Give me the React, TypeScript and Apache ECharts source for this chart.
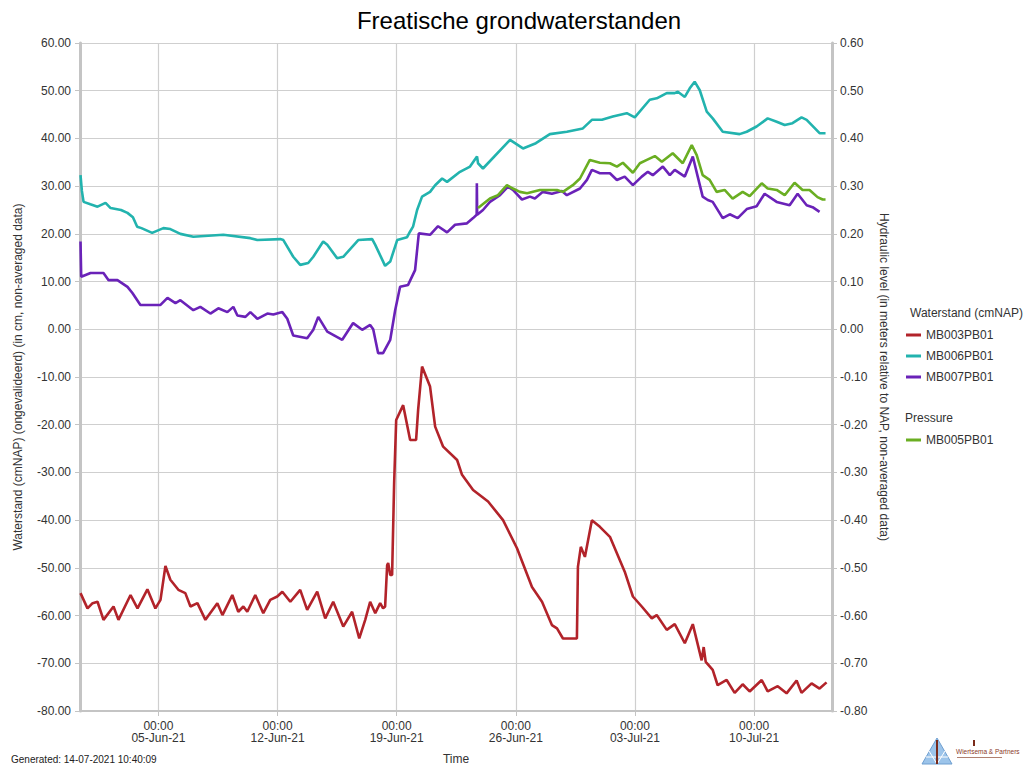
import React, { useEffect, useRef } from 'react';
import * as echarts from 'echarts';

// Time values are in days since 31-May-2021 00:00 (local time)
const mb003Days = [0.42, 0.83, 1.13, 1.42, 1.77, 2.36, 2.65, 3.36, 3.77, 4.35, 4.82, 5.12, 5.41, 5.70, 6.17, 6.58, 6.88, 7.29, 7.76, 8.46, 8.76, 9.34, 9.69, 9.99, 10.22, 10.69, 11.16, 11.57, 11.98, 12.28, 12.75, 13.33, 13.74, 14.33, 14.80, 15.27, 15.86, 16.38, 16.80, 17.15, 17.44, 17.74, 18.03, 18.20, 18.32, 18.44, 18.50, 18.62, 18.73, 18.85, 18.97, 19.38, 19.79, 20.14, 20.26, 20.49, 20.96, 21.26, 21.73, 22.55, 22.84, 23.49, 24.37, 25.25, 26.07, 26.95, 27.54, 28.12, 28.42, 28.77, 29.47, 29.59, 29.65, 29.82, 30.06, 30.47, 30.94, 31.53, 32.40, 32.88, 33.40, 33.99, 34.28, 34.87, 35.34, 35.93, 36.40, 36.92, 37.04, 37.16, 37.57, 37.86, 38.39, 38.86, 39.33, 39.74, 40.45, 40.80, 41.39, 41.91, 42.50, 42.79, 43.38, 43.85, 44.26];
const mb003Values = [-55.3, -58.5, -57.4, -57.1, -60.9, -58.1, -60.9, -55.7, -58.5, -54.5, -58.5, -56.7, -49.6, -52.5, -54.6, -55.3, -58.1, -57.4, -60.9, -57.4, -59.9, -55.7, -59.2, -58.1, -59.2, -55.7, -59.5, -56.7, -56.0, -55.0, -57.1, -54.6, -58.8, -55.0, -60.6, -57.1, -62.3, -59.2, -64.8, -60.9, -57.1, -59.5, -57.4, -58.5, -58.1, -49.4, -49.0, -51.5, -51.5, -32.2, -19.0, -15.9, -23.2, -23.2, -16.9, -7.8, -12.0, -20.4, -24.6, -27.4, -30.5, -33.7, -36.1, -40.0, -45.9, -54.0, -57.1, -62.0, -62.7, -64.8, -64.8, -64.8, -49.8, -45.6, -47.7, -40.0, -41.4, -43.5, -50.8, -56.0, -58.1, -60.6, -59.9, -63.0, -61.8, -65.8, -61.8, -69.4, -66.6, -69.7, -71.4, -74.6, -73.5, -76.2, -74.4, -75.9, -73.5, -75.9, -74.8, -76.3, -73.6, -76.2, -74.2, -75.3, -74.0];

const mb006Days = [0.42, 0.50, 0.60, 1.00, 1.42, 1.89, 2.19, 2.80, 3.18, 3.50, 3.75, 4.00, 4.63, 5.29, 5.70, 6.29, 7.05, 8.81, 10.40, 10.81, 12.16, 12.34, 12.92, 13.33, 13.80, 14.10, 14.68, 14.92, 15.50, 15.86, 16.74, 17.56, 17.74, 18.32, 18.62, 19.03, 19.61, 19.79, 19.96, 20.20, 20.49, 20.96, 21.26, 21.67, 21.96, 22.72, 23.31, 23.72, 23.78, 24.07, 25.66, 26.42, 27.18, 28.00, 29.00, 29.94, 30.47, 31.06, 31.70, 32.52, 32.99, 33.87, 34.28, 34.87, 35.34, 35.52, 35.93, 36.22, 36.51, 36.81, 37.22, 37.57, 38.16, 39.15, 39.57, 40.15, 40.80, 41.33, 41.80, 42.26, 42.79, 43.09, 43.85, 44.20];
const mb006Values = [32.3, 29.0, 26.7, 26.2, 25.7, 26.5, 25.4, 25.0, 24.4, 23.5, 21.5, 21.2, 20.2, 21.2, 21.0, 20.0, 19.4, 19.8, 19.1, 18.7, 18.9, 18.7, 15.2, 13.5, 13.9, 15.2, 18.4, 17.7, 14.9, 15.2, 18.7, 18.9, 17.7, 13.3, 14.2, 18.7, 19.3, 20.5, 21.5, 25.0, 27.8, 28.8, 30.2, 31.6, 30.9, 33.0, 34.1, 36.2, 34.8, 33.7, 39.7, 37.9, 39.0, 40.9, 41.4, 42.1, 43.9, 43.9, 44.6, 45.3, 44.4, 48.1, 48.4, 49.5, 49.5, 49.8, 48.7, 50.5, 51.9, 50.1, 45.6, 44.2, 41.4, 40.9, 41.4, 42.5, 44.2, 43.5, 42.8, 43.2, 44.4, 43.9, 41.1, 41.1];

const mb007Days = [0.42, 0.46, 1.01, 1.77, 2.07, 2.59, 3.18, 3.47, 3.94, 5.12, 5.53, 6.00, 6.29, 7.05, 7.46, 8.05, 8.52, 9.05, 9.40, 9.64, 10.11, 10.40, 10.81, 11.40, 11.75, 12.28, 12.57, 12.92, 13.74, 14.10, 14.39, 14.92, 15.80, 16.44, 16.97, 17.44, 17.62, 17.91, 18.20, 18.62, 18.91, 19.20, 19.67, 20.08, 20.30, 20.96, 21.43, 21.96, 22.43, 23.13, 23.49, 23.70, 23.71, 23.73, 24.07, 24.48, 25.07, 25.54, 25.83, 26.36, 26.83, 27.12, 27.59, 28.12, 28.71, 29.00, 29.77, 30.18, 30.47, 30.94, 31.53, 31.94, 32.40, 32.88, 33.40, 33.76, 34.05, 34.64, 35.05, 35.34, 35.93, 36.40, 36.69, 36.98, 37.28, 37.57, 38.16, 38.57, 39.04, 39.57, 40.15, 40.62, 41.33, 42.09, 42.56, 43.09, 43.44, 43.85];
const mb007Values = [18.4, 11.0, 11.8, 11.8, 10.3, 10.3, 8.9, 7.6, 5.1, 5.1, 6.6, 5.5, 6.1, 4.0, 4.7, 3.3, 4.4, 3.6, 4.7, 2.9, 2.6, 3.6, 2.2, 3.3, 3.1, 3.6, 2.2, -1.3, -1.9, -0.1, 2.6, -0.5, -2.2, 1.3, -0.1, 0.9, 0.0, -5.0, -5.0, -2.2, 4.0, 8.9, 9.3, 12.4, 20.1, 19.8, 21.6, 20.3, 21.9, 22.2, 23.3, 24.0, 30.6, 24.0, 25.0, 26.7, 28.1, 29.9, 29.2, 27.2, 27.8, 27.4, 28.8, 28.4, 29.0, 28.1, 29.5, 31.3, 33.4, 32.7, 32.7, 31.3, 32.0, 30.2, 32.0, 33.0, 32.3, 34.1, 32.3, 33.4, 32.0, 36.2, 32.0, 27.8, 27.1, 26.7, 23.3, 24.1, 23.3, 25.2, 25.8, 28.4, 26.7, 26.0, 28.4, 26.0, 25.6, 24.6];

// Pressure series, hydraulic level in meters (right axis)
const mb005Days = [23.78, 24.48, 24.95, 25.48, 25.83, 26.24, 26.66, 27.42, 28.42, 28.77, 29.35, 29.77, 30.35, 30.94, 31.53, 31.94, 32.29, 32.88, 33.29, 33.70, 34.17, 34.58, 35.22, 35.81, 36.34, 36.63, 36.98, 37.39, 37.80, 38.27, 38.74, 39.33, 39.74, 40.45, 40.80, 41.33, 41.80, 42.38, 42.85, 43.26, 43.73, 44.03, 44.20];
const mb005Values = [0.254, 0.274, 0.281, 0.302, 0.295, 0.288, 0.285, 0.292, 0.292, 0.288, 0.302, 0.316, 0.355, 0.349, 0.348, 0.341, 0.349, 0.328, 0.348, 0.355, 0.363, 0.351, 0.369, 0.348, 0.386, 0.365, 0.323, 0.313, 0.288, 0.292, 0.274, 0.288, 0.279, 0.306, 0.295, 0.292, 0.281, 0.307, 0.292, 0.292, 0.277, 0.272, 0.272];

const xTickDays = [5, 12, 19, 26, 33, 40];
const xAxisStartDay = 0.39;
const xAxisEndDay = 44.58;
const MONTHS = ['Jan', 'Feb', 'Mar', 'Apr', 'May', 'Jun', 'Jul', 'Aug', 'Sep', 'Oct', 'Nov', 'Dec'];

const BASE = new Date(2021, 4, 31, 0, 0, 0).getTime();
const toTime = (d: number) => BASE + d * 86400000;
const pair = (days: number[], vals: number[]) => days.map((d, i) => [toTime(d), vals[i]]);
const pad = (n: number) => (n < 10 ? '0' + n : '' + n);

const FONT = 'Liberation Sans, Arial, sans-serif';
const AXIS_GRAY = '#c4c4c4';
const GRID_GRAY = '#cfcfcf';
const TEXT = '#333333';

export default function App() {
  const ref = useRef<HTMLDivElement>(null);
  useEffect(() => {
    if (!ref.current) return;
    const chart = echarts.init(ref.current, undefined, { renderer: 'svg' });
    const tickTimes = xTickDays.map(toTime);
    const option: any = {
      animation: false,
      backgroundColor: '#ffffff',
      textStyle: { fontFamily: FONT },
      grid: { left: 80, right: 196, top: 43, bottom: 59, containLabel: false },
      xAxis: {
        type: 'value',
        min: toTime(xAxisStartDay),
        max: toTime(xAxisEndDay),
        name: 'Time',
        nameLocation: 'middle',
        nameGap: 42,
        nameTextStyle: { color: TEXT, fontSize: 12, fontFamily: FONT },
        axisLine: { show: true, onZero: false, lineStyle: { color: AXIS_GRAY, width: 2 } },
        axisTick: { show: true, length: 5, customValues: tickTimes, lineStyle: { color: AXIS_GRAY, width: 1 } },
        axisLabel: {
          customValues: tickTimes,
          color: TEXT,
          fontSize: 12,
          fontFamily: FONT,
          lineHeight: 12,
          margin: 9,
          showMinLabel: true,
          showMaxLabel: true,
          formatter: (v: number) => {
            const d = new Date(v);
            return pad(d.getHours()) + ':' + pad(d.getMinutes()) + '\n' + pad(d.getDate()) + '-' + MONTHS[d.getMonth()] + '-' + String(d.getFullYear()).slice(2);
          },
        },
        splitLine: { show: true, lineStyle: { color: GRID_GRAY, width: 1.2 } },
      },
      yAxis: [
        {
          type: 'value',
          min: -80,
          max: 60,
          interval: 10,
          position: 'left',
          name: 'Waterstand (cmNAP) (ongevalideerd) (in cm, non-averaged data)',
          nameLocation: 'middle',
          nameGap: 56,
          nameTextStyle: { color: TEXT, fontSize: 12, fontFamily: FONT },
          axisLine: { show: true, lineStyle: { color: AXIS_GRAY, width: 3 } },
          axisTick: { show: true, length: 5, lineStyle: { color: AXIS_GRAY } },
          axisLabel: { color: TEXT, fontSize: 12, fontFamily: FONT, margin: 9, formatter: (v: number) => v.toFixed(2) },
          splitLine: { show: true, lineStyle: { color: GRID_GRAY, width: 1.2 } },
        },
        {
          type: 'value',
          min: -0.8,
          max: 0.6,
          interval: 0.1,
          position: 'right',
          name: 'Hydraulic level (in meters relative to NAP, non-averaged data)',
          nameLocation: 'middle',
          nameRotate: -90,
          nameGap: 44,
          nameTextStyle: { color: TEXT, fontSize: 12, fontFamily: FONT },
          axisLine: { show: true, lineStyle: { color: AXIS_GRAY, width: 3 } },
          axisTick: { show: true, length: 5, lineStyle: { color: AXIS_GRAY } },
          axisLabel: { color: TEXT, fontSize: 12, fontFamily: FONT, margin: 8, formatter: (v: number) => v.toFixed(2) },
          splitLine: { show: false },
        },
      ],
      legend: [
        {
          data: ['MB003PB01', 'MB006PB01', 'MB007PB01'],
          orient: 'vertical',
          left: 906,
          top: 328,
          icon: 'rect',
          itemWidth: 15,
          itemHeight: 3,
          itemGap: 7,
          padding: 0,
          textStyle: { color: TEXT, fontSize: 12, fontFamily: FONT, lineHeight: 14 },
        },
        {
          data: ['MB005PB01'],
          orient: 'vertical',
          left: 906,
          top: 433,
          icon: 'rect',
          itemWidth: 15,
          itemHeight: 3,
          padding: 0,
          textStyle: { color: TEXT, fontSize: 12, fontFamily: FONT, lineHeight: 14 },
        },
      ],
      series: [
        { name: 'MB003PB01', type: 'line', yAxisIndex: 0, data: pair(mb003Days, mb003Values), showSymbol: false, symbol: 'none', color: '#b2232a', lineStyle: { width: 2.6, color: '#b2232a' } },
        { name: 'MB006PB01', type: 'line', yAxisIndex: 0, data: pair(mb006Days, mb006Values), showSymbol: false, symbol: 'none', color: '#22b3ae', lineStyle: { width: 2.6, color: '#22b3ae' } },
        { name: 'MB007PB01', type: 'line', yAxisIndex: 0, data: pair(mb007Days, mb007Values), showSymbol: false, symbol: 'none', color: '#6a22b8', lineStyle: { width: 2.6, color: '#6a22b8' } },
        { name: 'MB005PB01', type: 'line', yAxisIndex: 1, data: pair(mb005Days, mb005Values), showSymbol: false, symbol: 'none', color: '#6aae22', lineStyle: { width: 2.6, color: '#6aae22' } },
      ],
      graphic: [
        { type: 'text', x: 519, y: 20, style: { text: 'Freatische grondwaterstanden', fill: '#000', font: '24px ' + FONT, textAlign: 'center', textVerticalAlign: 'middle' }, z: 10 },
        { type: 'text', x: 910, y: 313, style: { text: 'Waterstand (cmNAP)', fill: TEXT, font: '12px ' + FONT, textVerticalAlign: 'middle' } },
        { type: 'text', x: 905, y: 418, style: { text: 'Pressure', fill: TEXT, font: '12px ' + FONT, textVerticalAlign: 'middle' } },
        { type: 'text', x: 11, y: 759, style: { text: 'Generated: 14-07-2021 10:40:09', fill: '#222', font: '10px ' + FONT, textVerticalAlign: 'middle' } },
        {
          type: 'group',
          children: [
            { type: 'polygon', shape: { points: [[922, 764], [937, 738], [952, 764]] }, style: { fill: '#9cc4ea', stroke: '#6f9fd0', lineWidth: 1 } },
            { type: 'polyline', shape: { points: [[929, 751], [937, 764], [945, 751]] }, style: { fill: 'none', stroke: '#ffffff', lineWidth: 1 } },
            { type: 'polyline', shape: { points: [[926, 757], [948, 757]] }, style: { fill: 'none', stroke: '#ffffff', lineWidth: 1 } },
            { type: 'rect', shape: { x: 936, y: 740, width: 2, height: 24 }, style: { fill: '#7a2a1a' } },
            { type: 'rect', shape: { x: 973, y: 740, width: 2, height: 6 }, style: { fill: '#7a2a1a' } },
            { type: 'text', x: 956, y: 751, style: { text: 'Wiertsema & Partners', fill: '#8a3a2a', font: '6.5px ' + FONT, textVerticalAlign: 'middle' } },
            { type: 'rect', shape: { x: 957, y: 757, width: 45, height: 1 }, style: { fill: '#b08070' } },
          ],
        },
      ],
    };
    chart.setOption(option);
    return () => chart.dispose();
  }, []);
  return <div ref={ref} style={{ position: 'absolute', left: 0, top: 0, width: 1028, height: 770 }} />;
}
